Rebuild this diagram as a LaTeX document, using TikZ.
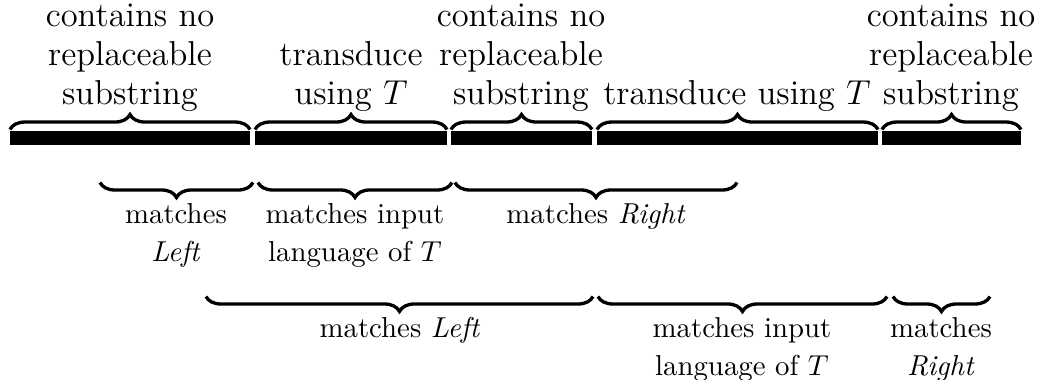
\documentclass[tikz,border=0pt]{standalone}
\usetikzlibrary{decorations.pathreplacing}
\begin{document}
\begin{tikzpicture}[x=0.3472pt,y=-0.3472pt,
  bar/.style={fill=black},
  obrace/.style={decorate,decoration={brace,amplitude=5.2pt},line width=1.15pt},
  ubrace/.style={decorate,decoration={brace,mirror,amplitude=5.2pt},line width=1.15pt},
  lbl/.style={anchor=base,inner sep=0pt,font=\fontsize{10}{12}\selectfont},
  toplbl/.style={anchor=base,inner sep=0pt,font=\fontsize{12}{13.5}\selectfont}]
\useasboundingbox (0,0) rectangle (1038,379);
% bars
\fill[bar] (10,131) rectangle (250,145);
\fill[bar] (255,131) rectangle (447,145);
\fill[bar] (451,131) rectangle (592,145);
\fill[bar] (597,131) rectangle (878,145);
\fill[bar] (882,131) rectangle (1021,145);
% top braces
\coordinate (o1l) at (10,129.5);  \coordinate (o1r) at (250,129.5);
\coordinate (o2l) at (255,129.5); \coordinate (o2r) at (447,129.5);
\coordinate (o3l) at (451,129.5); \coordinate (o3r) at (592,129.5);
\coordinate (o4l) at (597,129.5); \coordinate (o4r) at (878,129.5);
\coordinate (o5l) at (882,129.5); \coordinate (o5r) at (1021,129.5);
\draw[obrace] (o1l) -- (o1r);
\draw[obrace] (o2l) -- (o2r);
\draw[obrace] (o3l) -- (o3r);
\draw[obrace] (o4l) -- (o4r);
\draw[obrace] (o5l) -- (o5r);
% row 1 under braces
\coordinate (u1l) at (100,182.5); \coordinate (u1r) at (253,182.5);
\coordinate (u2l) at (258,182.5); \coordinate (u2r) at (452,182.5);
\coordinate (u3l) at (455,182.5); \coordinate (u3r) at (737,182.5);
\draw[ubrace] (u1l) -- (u1r);
\draw[ubrace] (u2l) -- (u2r);
\draw[ubrace] (u3l) -- (u3r);
% row 2 under braces
\coordinate (v1l) at (206,296.5); \coordinate (v1r) at (593,296.5);
\coordinate (v2l) at (598,296.5); \coordinate (v2r) at (887,296.5);
\coordinate (v3l) at (893,296.5); \coordinate (v3r) at (990,296.5);
\draw[ubrace] (v1l) -- (v1r);
\draw[ubrace] (v2l) -- (v2r);
\draw[ubrace] (v3l) -- (v3r);
% top labels
\node[toplbl] (t1a) at (130,26) {contains no};
\node[toplbl] (t1b) at (130,65) {replaceable};
\node[toplbl] (t1c) at (130,104) {substring};
\node[toplbl] (t2a) at (351,65) {transduce};
\node[toplbl] (t2b) at (351,104) {using $T$};
\node[toplbl] (t3a) at (521,26) {contains no};
\node[toplbl] (t3b) at (521,65) {replaceable};
\node[toplbl] (t3c) at (521,104) {substring};
\node[toplbl] (t4a) at (737,104) {transduce using $T$};
\node[toplbl] (t5a) at (951,26) {contains no};
\node[toplbl] (t5b) at (951,65) {replaceable};
\node[toplbl] (t5c) at (951,104) {substring};
% row 1 labels
\node[lbl] (r1a) at (176,223) {matches};
\node[lbl] (r1b) at (176,261) {\textit{Left}};
\node[lbl] (r2a) at (355,223) {matches input};
\node[lbl] (r2b) at (355,261) {language of $T$};
\node[lbl] (r3a) at (596,223) {matches \textit{Right}};
% row 2 labels
\node[lbl] (s1a) at (400,337) {matches \textit{Left}};
\node[lbl] (s2a) at (742,337) {matches input};
\node[lbl] (s2b) at (742,375) {language of $T$};
\node[lbl] (s3a) at (941,337) {matches};
\node[lbl] (s3b) at (941,375) {\textit{Right}};
\end{tikzpicture}
\end{document}
